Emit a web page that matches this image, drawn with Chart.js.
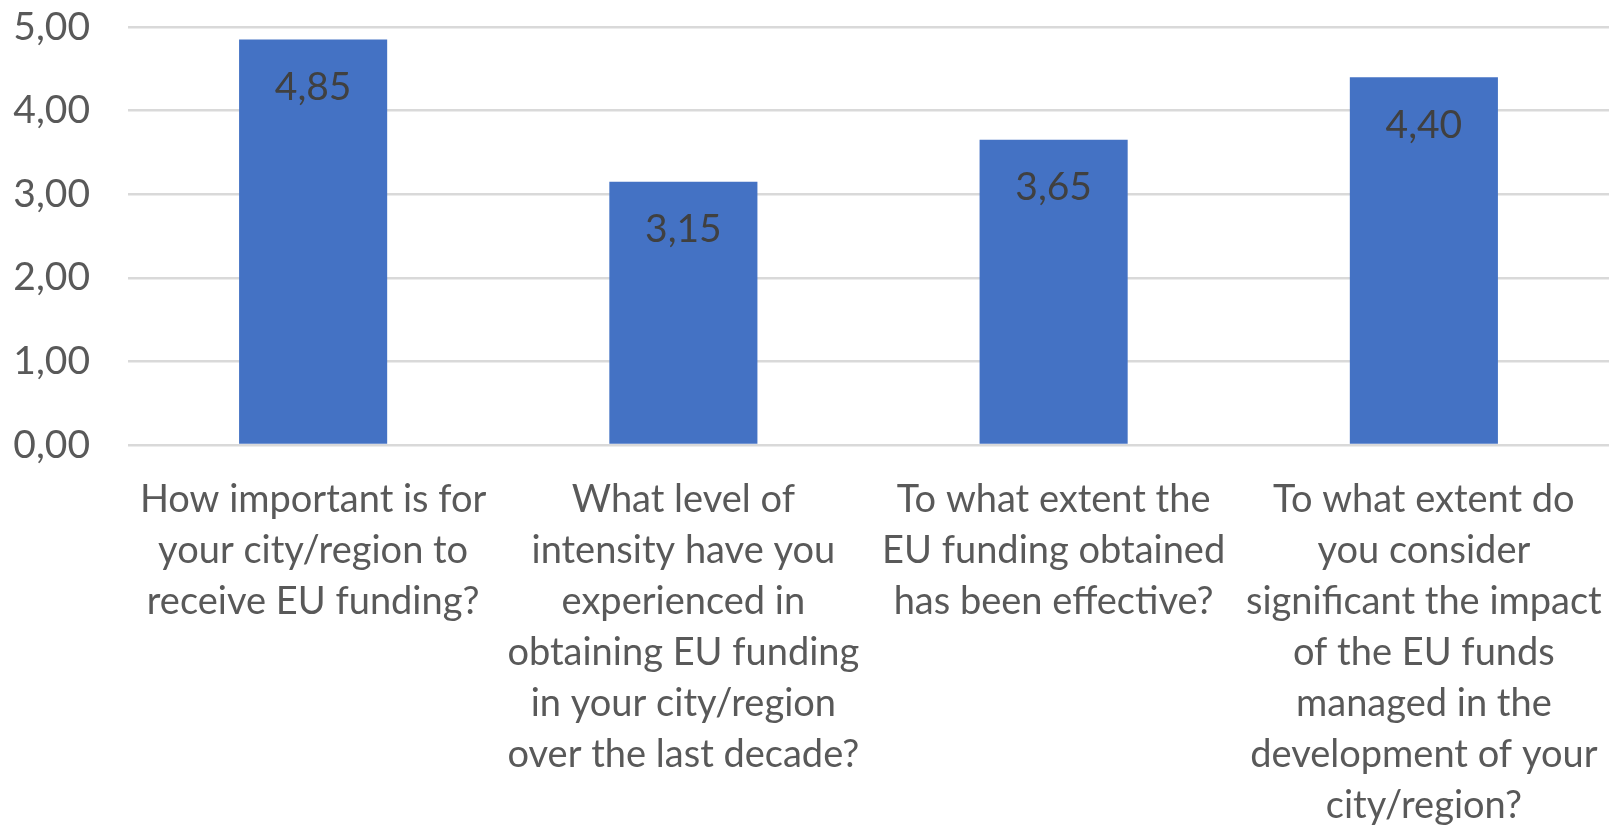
<!DOCTYPE html>
<html>
<head>
<meta charset="utf-8">
<script src="https://cdn.jsdelivr.net/npm/chart.js@4.4.1/dist/chart.umd.min.js"></script>
<style>
  html, body { margin: 0; padding: 0; background: #ffffff; }
  #wrap { width: 1614px; height: 829px; position: relative; }
</style>
</head>
<body>
<div id="wrap"><canvas id="c"></canvas></div>
<script>
const categories = [
  ["How important is for", "your city/region to", "receive EU funding?"],
  ["What level of", "intensity have you", "experienced in", "obtaining EU funding", "in your city/region", "over the last decade?"],
  ["To what extent the", "EU funding obtained", "has been effective?"],
  ["To what extent do", "you consider", "significant the impact", "of the EU funds", "managed in the", "development of your", "city/region?"]
];
const values = [4.85, 3.15, 3.65, 4.40];
const yTicks = [0, 1, 2, 3, 4, 5];

const fmt = v => Number(v).toFixed(2).replace('.', ',');
const FONT = "Lato, 'Open Sans', sans-serif";

const valueLabels = {
  id: 'valueLabels',
  afterDatasetsDraw(chart) {
    const ctx = chart.ctx;
    const meta = chart.getDatasetMeta(0);
    ctx.save();
    ctx.font = "39px " + FONT;
    ctx.fillStyle = '#404040';
    ctx.textAlign = 'center';
    ctx.textBaseline = 'middle';
    meta.data.forEach((bar, i) => {
      ctx.fillText(fmt(chart.data.datasets[0].data[i]), bar.x, bar.y + 48);
    });
    ctx.restore();
  }
};

new Chart(document.getElementById('c'), {
  type: 'bar',
  data: {
    labels: categories,
    datasets: [{
      data: values,
      backgroundColor: '#4472C4',
      borderWidth: 0,
      barPercentage: 0.4,
      categoryPercentage: 1.0
    }]
  },
  options: {
    responsive: true,
    maintainAspectRatio: false,
    animation: false,
    layout: { padding: { top: 27, right: 5, left: 0, bottom: 0 } },
    plugins: {
      legend: { display: false },
      tooltip: { enabled: false },
      title: { display: false }
    },
    scales: {
      x: {
        grid: { display: false, drawTicks: false },
        border: { display: false },
        ticks: {
          color: '#595959',
          font: { family: FONT, size: 38, lineHeight: '51px' },
          padding: 29,
          maxRotation: 0,
          minRotation: 0,
          autoSkip: false
        },
        afterFit(scale) {
          scale.height = 384;
          scale.paddingLeft = 0; scale.paddingRight = 0;
          scale.paddingTop = 0; scale.paddingBottom = 0;
        }
      },
      y: {
        min: 0,
        max: 5,
        afterBuildTicks(scale) { scale.ticks = yTicks.map(v => ({ value: v })); },
        grid: { color: '#d9d9d9', lineWidth: 2.5, drawTicks: false },
        border: { display: false },
        ticks: {
          color: '#595959',
          font: { family: FONT, size: 39 },
          padding: 38,
          callback: v => fmt(v)
        },
        afterFit(scale) {
          scale.width = 128;
          scale.paddingTop = 0; scale.paddingBottom = 0;
          scale.paddingLeft = 0; scale.paddingRight = 0;
        }
      }
    }
  },
  plugins: [valueLabels]
});
</script>
</body>
</html>
